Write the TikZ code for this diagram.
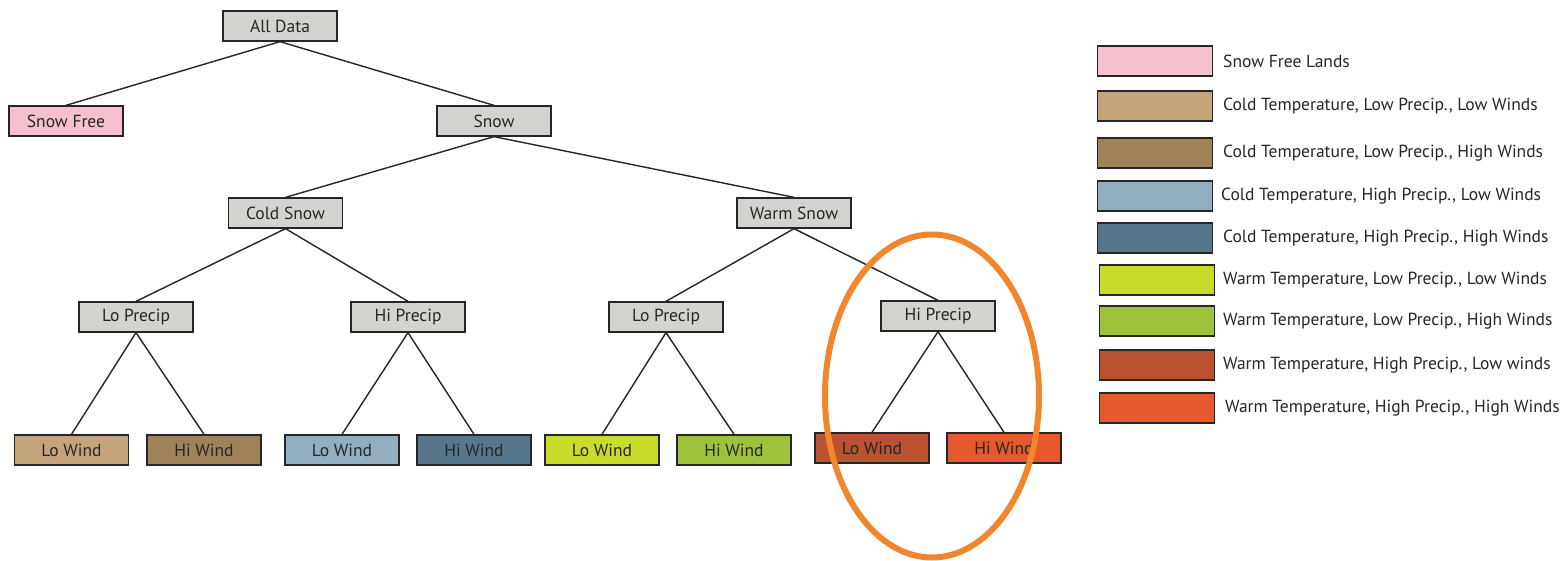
\documentclass[tikz,border=0pt]{standalone}
\usepackage{fontspec}
\setmainfont{PT Sans}
\usetikzlibrary{shapes.geometric}
\begin{document}
\begin{tikzpicture}[x=1pt,y=-1pt,
  box/.style={draw=black!85,line width=1.3pt,minimum width=114pt,minimum height=30pt,inner sep=0pt,
     font=\fontsize{17.5}{20}\selectfont,text=black!85},
  gray/.style={box,fill=nodegray},
  edge/.style={line width=1.4pt,draw=black!85},
  lbox/.style={draw=black!85,line width=1.3pt,minimum width=115pt,minimum height=30pt,inner sep=0pt},
  ltext/.style={anchor=west,inner sep=0pt,font=\fontsize{17.5}{20}\selectfont,text=black!85}]
\definecolor{nodegray}{HTML}{D5D3CF}
\definecolor{cpink}{HTML}{F6C0CF}
\definecolor{cA}{HTML}{C4A57A}
\definecolor{cB}{HTML}{9E8358}
\definecolor{cC}{HTML}{93AEBF}
\definecolor{cD}{HTML}{577689}
\definecolor{cE}{HTML}{C9DC2C}
\definecolor{cF}{HTML}{9FC23C}
\definecolor{cG}{HTML}{BA5231}
\definecolor{cH}{HTML}{E4582B}
\definecolor{ring}{HTML}{F0872C}
\useasboundingbox[fill=white] (0,0) rectangle (1567,561);

% tree nodes
\node[gray] (all) at (280,26) {All Data};
\node[box,fill=cpink] (free) at (66,121) {Snow Free};
\node[gray] (snow) at (494,121) {Snow};
\node[gray] (cold) at (285.5,213) {Cold Snow};
\node[gray] (warm) at (794,213) {Warm Snow};
\node[gray] (clp) at (136,317) {Lo Precip};
\node[gray] (chp) at (408,317) {Hi Precip};
\node[gray] (wlp) at (666,317) {Lo Precip};
\node[gray] (whp) at (938,316) {Hi Precip};
\node[box,fill=cA] (w1) at (71.5,450) {Lo Wind};
\node[box,fill=cB] (w2) at (204,450) {Hi Wind};
\node[box,fill=cC] (w3) at (342,450) {Lo Wind};
\node[box,fill=cD] (w4) at (474,450) {Hi Wind};
\node[box,fill=cE] (w5) at (602,450) {Lo Wind};
\node[box,fill=cF] (w6) at (734,450) {Hi Wind};
\node[box,fill=cG] (w7) at (872,448) {Lo Wind};
\node[box,fill=cH] (w8) at (1004,448) {Hi Wind};

% edges
\draw[edge] (all.south) -- (free.north);
\draw[edge] (all.south) -- (snow.north);
\draw[edge] (snow.south) -- (cold.north);
\draw[edge] (snow.south) -- (warm.north);
\draw[edge] (cold.south) -- (clp.north);
\draw[edge] (cold.south) -- (chp.north);
\draw[edge] (warm.south) -- (wlp.north);
\draw[edge] (warm.south) -- (whp.north);
\draw[edge] (clp.south) -- (w1.north);
\draw[edge] (clp.south) -- (w2.north);
\draw[edge] (chp.south) -- (w3.north);
\draw[edge] (chp.south) -- (w4.north);
\draw[edge] (wlp.south) -- (w5.north);
\draw[edge] (wlp.south) -- (w6.north);
\draw[edge] (whp.south) -- (w7.north);
\draw[edge] (whp.south) -- (w8.north);

% highlight ring
\node[draw=ring,line width=6pt,ellipse,minimum width=214pt,minimum height=323pt,inner sep=0pt] (ring) at (932,396) {};

% legend
\node[lbox,fill=cpink] (l1) at (1155,61) {};
\node[ltext] (t1) at (1223,61) {Snow Free Lands};
\node[lbox,fill=cA] (l2) at (1155,106) {};
\node[ltext] (t2) at (1223,106) {Cold Temperature, Low Precip., Low Winds};
\node[lbox,fill=cB] (l3) at (1155,153) {};
\node[ltext] (t3) at (1223,153) {Cold Temperature, Low Precip., High Winds};
\node[lbox,fill=cC] (l4) at (1155,196) {};
\node[ltext] (t4) at (1221,196) {Cold Temperature, High Precip., Low Winds};
\node[lbox,fill=cD] (l5) at (1155,238) {};
\node[ltext] (t5) at (1223,238) {Cold Temperature, High Precip., High Winds};
\node[lbox,fill=cE] (l6) at (1157,280) {};
\node[ltext] (t6) at (1223,280) {Warm Temperature, Low Precip., Low Winds};
\node[lbox,fill=cF] (l7) at (1157,321) {};
\node[ltext] (t7) at (1223,321) {Warm Temperature, Low Precip., High Winds};
\node[lbox,fill=cG] (l8) at (1157,365) {};
\node[ltext] (t8) at (1223,365) {Warm Temperature, High Precip., Low winds};
\node[lbox,fill=cH] (l9) at (1157,408) {};
\node[ltext] (t9) at (1225,408) {Warm Temperature, High Precip., High Winds};
\end{tikzpicture}
\end{document}
